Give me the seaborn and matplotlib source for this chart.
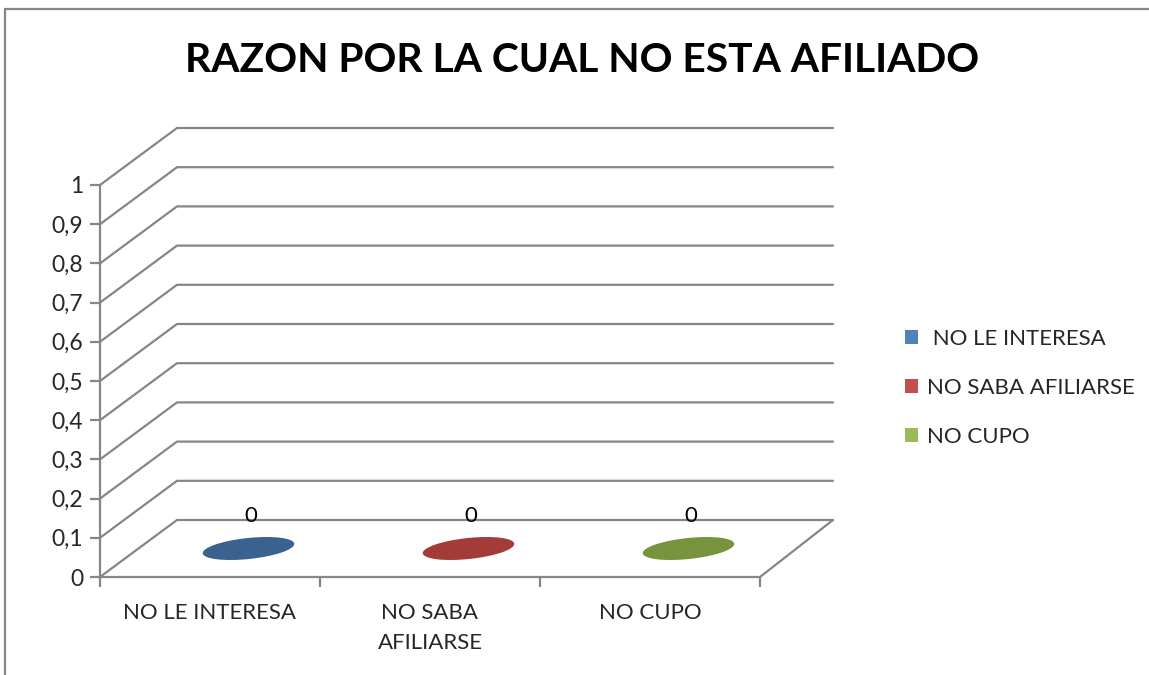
import matplotlib
matplotlib.use('Agg')
import matplotlib.pyplot as plt
import seaborn as sns
from matplotlib.patches import Ellipse, Patch
from matplotlib.lines import Line2D
from matplotlib.transforms import IdentityTransform

categorias = ['NO LE INTERESA', 'NO SABA AFILIARSE', 'NO CUPO']
etiquetas_x = ['NO LE INTERESA', 'NO SABA\nAFILIARSE', 'NO CUPO']
valores = [0, 0, 0]
colores = ['#4F81BD', '#C0504D', '#9BBB59']
colores_top = ['#3B618F', '#A33B38', '#77933C']
ticks_y = [0, 0.1, 0.2, 0.3, 0.4, 0.5, 0.6, 0.7, 0.8, 0.9, 1]

sns.set_style('white')
plt.rcParams['font.family'] = ['Lato', 'DejaVu Sans']

gris = '#868686'
W, H = 1149, 675
fig = plt.figure(figsize=(W / 100, H / 100), dpi=100)
ax = fig.add_axes([100 / W, 98 / H, 660 / W, 392 / H])

sns.barplot(x=categorias, y=valores, hue=categorias, palette=colores,
            legend=False, ax=ax)
ax.set_xlim(-0.5, 2.5)
ax.set_ylim(0, 1)

# profundidad del efecto 3D (pixeles)
DX, DY = 77, 57

def proj(x, v, d):
    px, py = ax.transData.transform((x, v))
    return px + d * DX, py + d * DY

# lineas de la pared izquierda y del fondo
for v in ticks_y:
    p0 = proj(-0.5, v, 0)
    p1 = proj(-0.5, v, 1)
    p2 = proj(2.5, v, 1)
    ax.add_line(Line2D([p0[0], p1[0], p2[0] - 4], [p0[1], p1[1], p2[1]],
                       transform=IdentityTransform(), color=gris, lw=1.6,
                       clip_on=False, zorder=1))
# borde derecho del piso
q0 = proj(2.5, 0, 0)
q1 = proj(2.5, 0, 1)
ax.add_line(Line2D([q0[0], q1[0] - 4], [q0[1], q1[1]], transform=IdentityTransform(),
                   color=gris, lw=1.6, clip_on=False, zorder=1))

# tapas de las barras (valor 0) y etiquetas
for i, (val, c) in enumerate(zip(valores, colores_top)):
    cx, cy = proj(i, val, 0.5)
    ax.add_patch(Ellipse((cx, cy), 92, 21, angle=6, transform=IdentityTransform(),
                         facecolor=c, edgecolor='none', clip_on=False, zorder=3))
    ax.text(cx + 2, cy + 33, f'{val}', transform=IdentityTransform(), ha='center',
            va='center', fontsize=16, color='black', zorder=4)

sns.despine(ax=ax, top=True, right=True)
for s in ['left', 'bottom']:
    ax.spines[s].set_color(gris)
    ax.spines[s].set_linewidth(1.6)

ax.set_yticks(ticks_y)
ax.set_yticklabels([f'{t:g}'.replace('.', ',') for t in ticks_y], fontsize=16.5)
ax.tick_params(axis='y', direction='out', length=7, width=1.6, color=gris,
               pad=5, left=True)
ax.set_xticks(range(len(categorias)))
ax.set_xticklabels(etiquetas_x, fontsize=16, linespacing=1.6)
ax.tick_params(axis='x', length=0, pad=19)
ax.set_xticks([-0.5, 0.5, 1.5, 2.5], minor=True)
ax.tick_params(axis='x', which='minor', direction='out', length=7, width=1.6,
               color=gris, bottom=True)
ax.set_xlabel('')
ax.set_ylabel('')

fig.suptitle('RAZON POR LA CUAL NO ESTA AFILIADO', x=582 / W, y=1 - 61 / H,
             va='center', fontsize=29.3, fontweight='bold', color='black')

handles = [Patch(facecolor=c, edgecolor='none') for c in colores]
labels = [' ' + categorias[0]] + categorias[1:]
fig.legend(handles, labels, loc='center left', bbox_to_anchor=(905 / W, 1 - 388 / H),
           frameon=False, fontsize=16, handlelength=0.6, handleheight=0.6,
           handletextpad=0.4, labelspacing=1.3, borderpad=0, borderaxespad=0)

# borde del area del grafico
fig.add_artist(Line2D([5 / W, 1], [1 - 9 / H, 1 - 9 / H], transform=fig.transFigure,
                      color=gris, lw=1.6))
fig.add_artist(Line2D([5 / W, 5 / W], [0, 1 - 9 / H], transform=fig.transFigure,
                      color=gris, lw=1.6))

plt.savefig('out.png', dpi=100)
plt.close()
